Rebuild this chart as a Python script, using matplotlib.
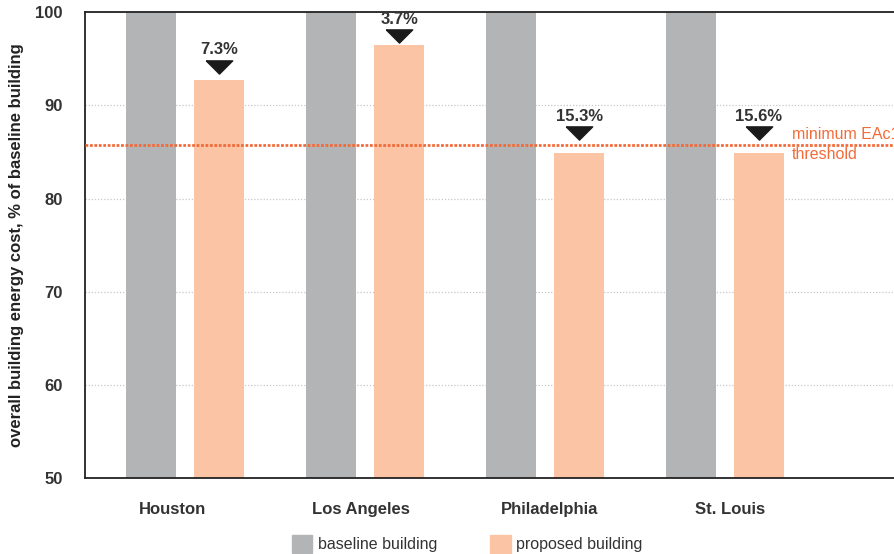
import numpy as np
import matplotlib
matplotlib.use('Agg')
import matplotlib.pyplot as plt
from matplotlib.patches import Patch
from matplotlib.transforms import offset_copy

plt.rcParams['font.family'] = ['Liberation Sans', 'DejaVu Sans']

cities = ['Houston', 'Los Angeles', 'Philadelphia', 'St. Louis']
baseline = [100, 100, 100, 100]
proposed = [92.7, 96.5, 84.9, 84.9]
savings = ['7.3%', '3.7%', '15.3%', '15.6%']
threshold = 85.8

gray = '#b3b4b6'
peach = '#fbc5a5'
orange = '#f26b3a'
txt = '#333333'

fig = plt.figure(figsize=(8.95, 5.54), dpi=100)
ax = fig.add_axes([0.095, 0.137, 1.022, 0.841])

x = np.arange(len(cities))
w = 0.278
off = 0.19

ax.bar(x - off, baseline, w, color=gray, zorder=2)
ax.bar(x + off, proposed, w, color=peach, zorder=2)

# savings markers (gap between bar top and arrow tip, in points)
gaps = [4.8, 1.4, 9.1, 9.1]
tri = [(-1, 0.5), (1, 0.5), (0, -0.5), (-1, 0.5)]
for xi, p, s, g in zip(x, proposed, savings, gaps):
    tr = offset_copy(ax.transData, fig=fig, y=g + 5, units='points')
    ax.plot(xi + off, p, marker=tri, markersize=19, color='#1a1a1a',
            linestyle='none', zorder=3, transform=tr)
    ax.annotate(s, (xi + off, p), xytext=(0, g + 17), textcoords='offset points',
                ha='center', va='center', fontsize=12, fontweight='bold', color=txt)

# threshold
ax.axhline(threshold, color=orange, linestyle=(0, (1, 0.6)), linewidth=2, zorder=4)
ax.text(3.372, threshold, 'minimum EAc1\nthreshold', color=orange, fontsize=11.5,
        va='center', ha='left', linespacing=1.45)

ax.set_ylim(50, 100)
ax.set_xlim(-0.556, 4.528)
ax.set_yticks([50, 60, 70, 80, 90, 100])
ax.set_yticklabels(['50', '60', '70', '80', '90', '100'], fontsize=12, fontweight='bold', color=txt)
ax.set_xticks(x + np.array([-0.072, -0.02, 0.028, 0.028]))
ax.set_xticklabels(cities, fontsize=12, fontweight='bold', color=txt)
ax.tick_params(axis='both', length=0)
ax.tick_params(axis='y', pad=16)
ax.tick_params(axis='x', pad=17)
ax.yaxis.grid(True, color='#c8c8c8', linestyle=(0, (1, 1.5)), linewidth=0.9, zorder=0)
ax.set_axisbelow(True)
for sp in ['left', 'bottom', 'top']:
    ax.spines[sp].set_color('#222222')
    ax.spines[sp].set_linewidth(1.3)
ax.spines['right'].set_visible(False)

ax.set_ylabel('overall building energy cost, % of baseline building', fontsize=12,
              fontweight='bold', color='#222222')
ax.yaxis.set_label_coords(-0.067, 0.5)

handles = [Patch(color=gray, label='baseline building'),
           Patch(color=peach, label='proposed building')]
fig.legend(handles=handles, loc='center', bbox_to_anchor=(0.522, 0.018), ncol=2,
           frameon=False, fontsize=11.5, handlelength=1.3, handleheight=1.3,
           handletextpad=0.35, columnspacing=3.3, labelcolor=txt)

fig.savefig('out.png', dpi=100)
